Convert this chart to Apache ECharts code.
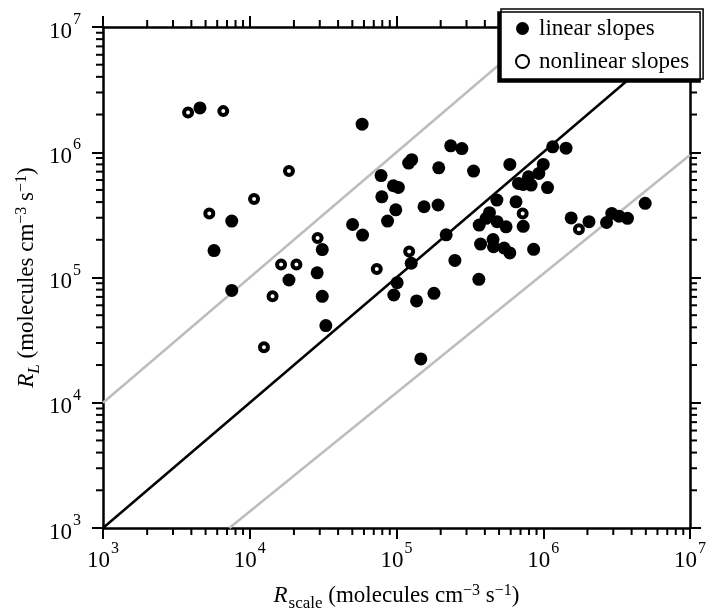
<!DOCTYPE html>
<html>
<head>
<meta charset="utf-8">
<script src="https://cdn.jsdelivr.net/npm/echarts@6/dist/echarts.min.js"></script>
<style>
  html, body { margin: 0; padding: 0; background: #fff; }
  #chart { width: 709px; height: 609px; }
</style>
</head>
<body>
<div id="chart"></div>
<script>
// points (molecules cm-3 s-1)
var linearX = [4.58e3, 7.54e3, 5.71e3, 1.85e4, 2.88e4, 3.12e4, 3.12e4, 7.54e3, 5.02e4, 5.83e4,
  5.87e4, 2.34e5, 2.79e5, 1.21e5, 1.27e5, 1.94e5, 3.35e5, 5.92e5, 1.16e6, 1.43e6,
  7.85e4, 7.94e4, 9.53e4, 1.03e5, 9.89e4, 1.54e5, 1.92e5, 8.69e4, 2.18e5, 1.26e5,
  1.01e5, 9.59e4, 1.37e5, 1.80e5, 2.50e5, 3.64e5, 4.83e5, 6.52e5, 4.30e5, 4.08e5,
  3.66e5, 4.85e5, 5.58e5, 7.30e5, 3.74e5, 4.55e5, 4.58e5, 5.41e5, 5.92e5, 8.60e5,
  6.78e5, 7.30e5, 8.27e5, 7.93e5, 9.33e5, 1.00e6, 1.07e6, 1.55e6, 2.05e6, 2.70e6,
  2.93e6, 3.28e6, 3.75e6, 4.95e6, 3.30e4, 1.465e5]
var linearY = [2.26e6, 2.82e5, 1.64e5, 9.55e4, 1.09e5, 1.67e5, 7.08e4, 7.88e4, 2.65e5, 1.675e6,
  2.18e5, 1.125e6, 1.07e6, 8.19e5, 8.73e5, 7.51e5, 7.07e5, 7.99e5, 1.104e6, 1.078e6,
  6.51e5, 4.41e5, 5.40e5, 5.24e5, 3.47e5, 3.67e5, 3.79e5, 2.82e5, 2.19e5, 1.30e5,
  9.09e4, 7.25e4, 6.50e4, 7.48e4, 1.37e5, 9.67e4, 4.15e5, 4.02e5, 3.29e5, 2.97e5,
  2.62e5, 2.79e5, 2.54e5, 2.56e5, 1.85e5, 2.01e5, 1.76e5, 1.72e5, 1.57e5, 1.68e5,
  5.64e5, 5.54e5, 5.47e5, 6.37e5, 6.78e5, 7.99e5, 5.22e5, 2.99e5, 2.79e5, 2.75e5,
  3.25e5, 3.09e5, 2.97e5, 3.91e5, 4.13e4, 2.24e4]
var nonlinearX = [3.8e3, 6.6e3, 1.85e4, 1.07e4, 5.3e3, 2.9e4, 1.635e4, 2.08e4, 1.43e4, 1.25e4,
  7.34e4, 1.22e5, 7.24e5, 1.75e6]
var nonlinearY = [2.08e6, 2.13e6, 7.07e5, 4.23e5, 3.24e5, 2.07e5, 1.27e5, 1.27e5, 7.08e4, 2.78e4,
  1.17e5, 1.61e5, 3.25e5, 2.43e5]

// reference lines (end points)
var oneToOne = [[1e3, 1e3], [1e7, 1e7]]
var upperLine = [[1e3, 1e4], [1e6, 1e7]]
var lowerLine = [[7.26e3, 1e3], [1e7, 9.5e5]]

var decades = [1e3, 1e4, 1e5, 1e6]
var minorSteps = [2, 3, 4, 5, 6, 7, 8, 9]

var FONT = '"Liberation Serif", "DejaVu Serif", serif'

function zip(xs, ys) {
  return xs.map(function (x, i) { return [x, ys[i]] })
}

var minorVals = []
decades.forEach(function (d) {
  minorSteps.forEach(function (m) { minorVals.push(d * m) })
})

var tickRich = {
  b: { fontFamily: FONT, fontSize: 23, color: '#000', lineHeight: 32, verticalAlign: 'bottom' },
  s: { fontFamily: FONT, fontSize: 16, color: '#000', lineHeight: 32, verticalAlign: 'top', padding: [1, 0, 0, 1] }
}
function powLabel(v) {
  var e = Math.round(Math.log10(v))
  return '{b|10}{s|' + e + '}'
}

var nameRich = {
  i: { fontFamily: FONT, fontSize: 23, fontStyle: 'italic', color: '#000', lineHeight: 32 },
  t: { fontFamily: FONT, fontSize: 23, color: '#000', lineHeight: 32 },
  sub: { fontFamily: FONT, fontSize: 17, color: '#000', lineHeight: 30, verticalAlign: 'bottom', padding: [0, 0, 0, 1] },
  subi: { fontFamily: FONT, fontSize: 17, fontStyle: 'italic', color: '#000', lineHeight: 30, verticalAlign: 'bottom' },
  sup: { fontFamily: FONT, fontSize: 16, color: '#000', lineHeight: 32, verticalAlign: 'top', padding: [3, 0, 0, 0] }
}

var axisLine = { show: true, lineStyle: { color: '#000', width: 2.5 } }
var axisTick = { show: true, inside: false, length: 11, lineStyle: { color: '#000', width: 2 } }

function minorX(params, api) {
  var v = api.value(0)
  var b = api.coord([v, 1e3])
  var t = api.coord([v, 1e7])
  var st = { stroke: '#000', lineWidth: 2 }
  return {
    type: 'group',
    children: [
      { type: 'line', shape: { x1: b[0], y1: b[1], x2: b[0], y2: b[1] + 7 }, style: st },
      { type: 'line', shape: { x1: t[0], y1: t[1], x2: t[0], y2: t[1] - 7 }, style: st }
    ]
  }
}
function minorY(params, api) {
  var v = api.value(1)
  var l = api.coord([1e3, v])
  var r = api.coord([1e7, v])
  var st = { stroke: '#000', lineWidth: 2 }
  return {
    type: 'group',
    children: [
      { type: 'line', shape: { x1: l[0], y1: l[1], x2: l[0] - 7, y2: l[1] }, style: st },
      { type: 'line', shape: { x1: r[0], y1: r[1], x2: r[0] + 7, y2: r[1] }, style: st }
    ]
  }
}

var myChart = echarts.init(document.getElementById('chart'))
myChart.setOption({
  animation: false,
  backgroundColor: '#fff',
  grid: { left: 103, right: 19, top: 27, bottom: 81, containLabel: false, outerBoundsMode: 'none' },
  legend: {
    data: ['linear slopes', 'nonlinear slopes'],
    orient: 'vertical',
    left: 501,
    top: 9,
    padding: [8, 14, 6, 14],
    itemGap: 10,
    itemWidth: 13,
    itemHeight: 13,
    backgroundColor: '#fff',
    borderColor: '#000',
    borderWidth: 1.5,
    shadowColor: '#000',
    shadowBlur: 0,
    shadowOffsetX: -3,
    shadowOffsetY: 3,
    textStyle: { fontFamily: FONT, fontSize: 23, color: '#000', padding: [0, 0, 0, 5] },
    z: 10
  },
  xAxis: [{
    type: 'log',
    logBase: 10,
    min: 1e3,
    max: 1e7,
    position: 'bottom',
    axisLine: axisLine,
    axisTick: axisTick,
    splitLine: { show: false },
    axisLabel: { margin: 12, formatter: powLabel, rich: tickRich },
    name: '{i|R}{sub|scale}{t| (molecules cm}{sup|−3}{t| s}{sup|−1}{t|)}',
    nameLocation: 'middle',
    nameGap: 52,
    nameMoveOverlap: false,
    nameTextStyle: { rich: nameRich }
  }, {
    type: 'log',
    logBase: 10,
    min: 1e3,
    max: 1e7,
    position: 'top',
    axisLine: axisLine,
    axisTick: axisTick,
    splitLine: { show: false },
    axisLabel: { show: false }
  }],
  yAxis: [{
    type: 'log',
    logBase: 10,
    min: 1e3,
    max: 1e7,
    position: 'left',
    axisLine: axisLine,
    axisTick: axisTick,
    splitLine: { show: false },
    axisLabel: { margin: 22, formatter: powLabel, rich: tickRich },
    name: '{i|R}{subi|L}{t| (molecules cm}{sup|−3}{t| s}{sup|−1}{t|)}',
    nameLocation: 'middle',
    nameGap: 60,
    nameMoveOverlap: false,
    nameRotate: 90,
    nameTextStyle: { rich: nameRich }
  }, {
    type: 'log',
    logBase: 10,
    min: 1e3,
    max: 1e7,
    position: 'right',
    axisLine: axisLine,
    axisTick: axisTick,
    splitLine: { show: false },
    axisLabel: { show: false }
  }],
  series: [
    {
      type: 'line', data: upperLine, symbol: 'none', silent: true,
      lineStyle: { color: '#bdbdbd', width: 2.5 }, z: 1
    },
    {
      type: 'line', data: lowerLine, symbol: 'none', silent: true,
      lineStyle: { color: '#bdbdbd', width: 2.5 }, z: 1
    },
    {
      type: 'line', data: oneToOne, symbol: 'none', silent: true,
      lineStyle: { color: '#000', width: 2.5 }, z: 1
    },
    {
      name: 'linear slopes',
      type: 'scatter',
      data: zip(linearX, linearY),
      symbol: 'circle',
      symbolSize: 13,
      itemStyle: { color: '#000', opacity: 1 },
      z: 3
    },
    {
      name: 'nonlinear slopes',
      type: 'scatter',
      data: zip(nonlinearX, nonlinearY),
      symbol: 'circle',
      symbolSize: 8,
      itemStyle: { color: '#fff', borderColor: '#000', borderWidth: 4, opacity: 1 },
      z: 4
    },
    {
      type: 'custom',
      silent: true,
      renderItem: minorX,
      data: minorVals.map(function (v) { return [v, 1e3] }),
      clip: false,
      z: 5
    },
    {
      type: 'custom',
      silent: true,
      renderItem: minorY,
      data: minorVals.map(function (v) { return [1e3, v] }),
      clip: false,
      z: 5
    }
  ]
})
</script>
</body>
</html>
